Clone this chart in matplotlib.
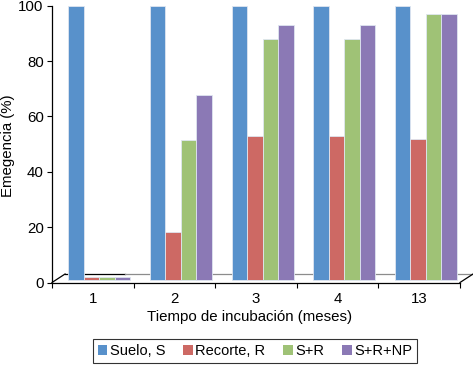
"""
Emergence per incubation time, Excel-style clustered columns with a flat floor.
"""

import matplotlib.pyplot as plt
import numpy as np

months = ["1", "2", "3", "4", "13"]
series_names = ["Suelo, S", "Recorte, R", "S+R", "S+R+NP"]
suelo = [100, 100, 100, 100, 100]
recorte = [2, 18.4, 52.9, 53.1, 52.0]
s_r = [2, 51.5, 87.9, 87.9, 96.9]
s_r_np = [2, 67.6, 92.9, 93.0, 96.9]
y_ticks = [0, 20, 40, 60, 80, 100]

colors = ["#5891cb", "#cd6964", "#9fc276", "#8b79b5"]

W, H = 473, 366
plt.rcParams["font.family"] = ["Liberation Sans", "DejaVu Sans"]
plt.rcParams["font.size"] = 10.8

fig = plt.figure(figsize=(W / 100, H / 100), dpi=100)

# axes box in pixels: x 52..460, y 5.7..282.5 (top..bottom)
left, right, top, bottom = 52, 460, 5.7, 282.5
ax = fig.add_axes([left / W, 1 - bottom / H, (right - left) / W, (bottom - top) / H])

n = len(months)
x = np.arange(n) + 0.5
bar_w = 0.19
shift = 0.08  # depth offset of the bars on the floor
floor = 0.9   # bars stand a little behind the front edge

all_series = [suelo, recorte, s_r, s_r_np]
bars = []
for j, (vals, color, name) in enumerate(zip(all_series, colors, series_names)):
    vals = np.asarray(vals, dtype=float)
    b = ax.bar(
        x + shift + (j - 1.5) * bar_w,
        vals - floor,
        bottom=floor,
        width=bar_w,
        color=color,
        edgecolor="#dfe6f0",
        linewidth=0.6,
        label=name,
        clip_on=False,
        zorder=3,
    )
    bars.append(b)

# floor outline
depth_x, depth_y = 0.16, 3.07
ax.plot([0, depth_x], [0, depth_y], color="black", lw=0.9, clip_on=False, zorder=2)
ax.plot([depth_x, 0.895], [depth_y, depth_y], color="black", lw=0.9, clip_on=False, zorder=2)
ax.plot([0.895, n + depth_x], [depth_y, depth_y], color="#8c8c8c", lw=0.9,
        clip_on=False, zorder=2)
ax.plot([n, n + depth_x], [0, depth_y], color="black", lw=0.9, clip_on=False, zorder=2)

ax.set_xlim(0, n)
ax.set_ylim(0, 100)
ax.set_yticks(y_ticks)
ax.set_xticks(np.arange(n + 1))
ax.set_xticklabels([])
ax.set_xticks(x, minor=True)
ax.set_xticklabels(months, minor=True)
ax.tick_params(axis="x", which="major", length=3.5, width=0.8, direction="out")
ax.tick_params(axis="x", which="minor", length=0, pad=6.5)
ax.tick_params(axis="y", length=3.5, width=0.8, pad=2.5)

for side in ["top", "right"]:
    ax.spines[side].set_visible(False)
for side in ["left", "bottom"]:
    ax.spines[side].set_linewidth(0.9)

fig.text(8 / W, 1 - 146 / H, "Emegencia (%)", rotation=90, ha="center", va="center")
fig.text(250 / W, 1 - 317 / H, "Tiempo de incubación (meses)", ha="center", va="center")

leg = fig.legend(
    handles=bars,
    labels=series_names,
    loc="center",
    bbox_to_anchor=(255 / W, 1 - 351 / H),
    ncol=4,
    frameon=True,
    fancybox=False,
    fontsize=10.5,
    handlelength=0.65,
    handleheight=0.65,
    handletextpad=0.15,
    columnspacing=1.25,
    borderpad=0.35,
)
leg.get_frame().set_edgecolor("black")
leg.get_frame().set_linewidth(0.8)
for h in leg.legend_handles:
    h.set_edgecolor("none")

fig.savefig("out.png", dpi=100)
